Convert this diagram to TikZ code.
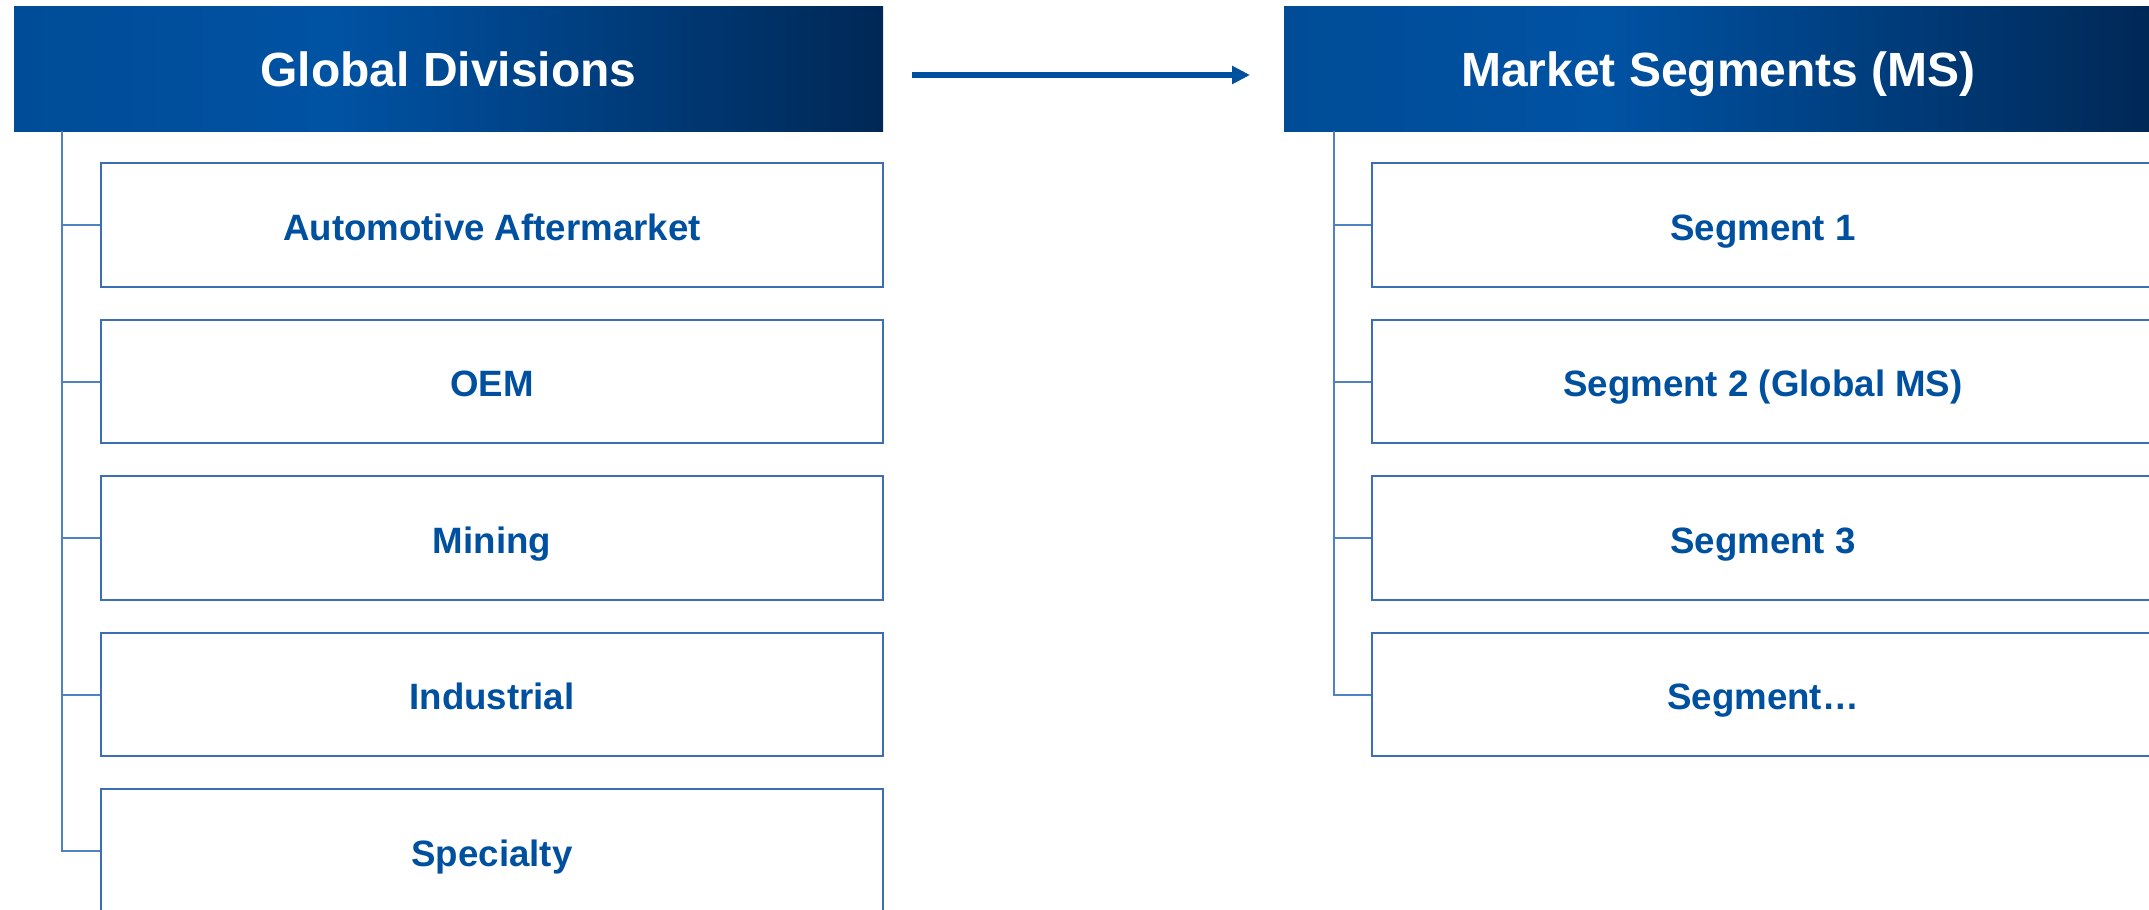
\documentclass[tikz,border=0pt]{standalone}
\usepackage{fontspec}
\setmainfont{Liberation Sans}
\usetikzlibrary{arrows.meta}
\definecolor{hL}{RGB}{0,76,151}
\definecolor{hM}{RGB}{0,82,163}
\definecolor{hR}{RGB}{0,40,86}
\definecolor{txtblue}{RGB}{0,80,160}
\definecolor{boxline}{RGB}{60,110,180}
\definecolor{conline}{RGB}{80,130,195}
\pgfdeclarehorizontalshading{hdrshade}{100bp}{color(0bp)=(hL); color(25bp)=(hL); color(43.5bp)=(hM); color(75bp)=(hR); color(100bp)=(hR)}
\begin{document}
\begin{tikzpicture}[x=0.75pt,y=-0.75pt,
  header/.style={shading=hdrshade, draw=none, rectangle, inner sep=0pt,
    minimum width=651.75pt, minimum height=93.75pt,
    text=white, font=\bfseries\fontsize{36}{40}\selectfont,
    text height=26.5pt, text depth=0pt},
  itembox/.style={draw=boxline, line width=1.2pt, fill=white, rectangle, inner sep=0pt,
    minimum width=586.5pt, minimum height=92.6pt,
    text=txtblue, font=\bfseries\fontsize{27.5}{32}\selectfont,
    text height=23pt, text depth=0pt},
  conn/.style={draw=conline, line width=1.5pt},
  bigarrow/.style={draw=txtblue, line width=4.5pt, -{Triangle[length=13.5pt,width=13pt]}}
]
\useasboundingbox (0,0) rectangle (2149,910);
\clip (0,0) rectangle (2149,910);
\fill[white] (0,0) rectangle (2149,910);

% Left column
\node[header] (hdrL) at (448.5,68.5) {Global Divisions};
\coordinate (ltop) at (62,131);
\node[itembox] (l1) at (492,225) {Automotive Aftermarket};
\node[itembox] (l2) at (492,381.5) {OEM};
\node[itembox] (l3) at (492,538) {Mining};
\node[itembox] (l4) at (492,694.5) {Industrial};
\node[itembox] (l5) at (492,851) {Specialty};
\draw[conn] (ltop) |- (l5.west);
\foreach \b in {l1,l2,l3,l4}{\draw[conn] (ltop |- \b.west) -- (\b.west);}

% Right column
\node[header] (hdrR) at (1718.5,68.5) {Market Segments (MS)};
\coordinate (rtop) at (1334,131);
\node[itembox] (r1) at (1763,225) {Segment 1};
\node[itembox] (r2) at (1763,381.5) {Segment 2 (Global MS)};
\node[itembox] (r3) at (1763,538) {Segment 3};
\node[itembox] (r4) at (1763,694.5) {Segment…};
\draw[conn] (rtop) |- (r4.west);
\foreach \b in {r1,r2,r3}{\draw[conn] (rtop |- \b.west) -- (\b.west);}

% Arrow between headers
\coordinate (as) at (912,75);
\coordinate (ae) at (1250,75);
\draw[bigarrow] (as) -- (ae);
\end{tikzpicture}
\end{document}
